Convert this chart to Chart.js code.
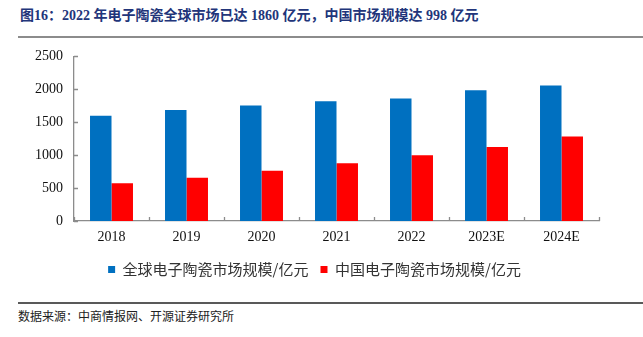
<!DOCTYPE html>
<html>
<head>
<meta charset="utf-8">
<script src="https://cdn.jsdelivr.net/npm/chart.js@4"></script>
<style>
  body { margin: 0; width: 643px; height: 337px; background: #fff; position: relative; overflow: hidden; }
  #title { position: absolute; left: 20px; top: 4px; font: bold 14px "Liberation Serif", "Noto Sans CJK SC"; color: #22357a; white-space: nowrap; }
  #topLine { position: absolute; left: 18px; right: 0; top: 36px; height: 2px; background: #8c8c8c; }
  #box { position: absolute; left: 0; top: 37px; width: 643px; height: 250px; }
  #bottomLine { position: absolute; left: 18px; right: 0; top: 302px; height: 2px; background: #595959; }
  #source { position: absolute; left: 18px; top: 307px; font: 12px "Noto Sans CJK SC"; color: #222; white-space: nowrap; }
</style>
</head>
<body>
<div id="title">图16：2022 年电子陶瓷全球市场已达 1860 亿元，中国市场规模达 998 亿元</div>
<div id="topLine"></div>
<div id="box"><canvas id="myChart"></canvas></div>
<div id="bottomLine"></div>
<div id="source">数据来源：中商情报网、开源证券研究所</div>
<script>
const years = ["2018", "2019", "2020", "2021", "2022", "2023E", "2024E"];
const globalMarket = [1600, 1687, 1753, 1819, 1860, 1987, 2058];
const chinaMarket = [574, 655, 762, 879, 998, 1123, 1285];
const yTicks = [0, 500, 1000, 1500, 2000, 2500];

const axisColor = "#8c8c8c";

// short ticks pointing into the plot, like the original
const innerTicks = {
  id: "innerTicks",
  afterDraw(chart) {
    const ctx = chart.ctx;
    const x = chart.scales.x;
    const y = chart.scales.y;
    ctx.save();
    ctx.strokeStyle = axisColor;
    ctx.lineWidth = 1.3;
    ctx.beginPath();
    for (let i = 0; i < y.ticks.length; i++) {
      const py = Math.round(y.getPixelForValue(y.ticks[i].value)) + 0.5;
      ctx.moveTo(x.left, py);
      ctx.lineTo(x.left + 4, py);
    }
    for (let i = 0; i <= years.length; i++) {
      const px = Math.round(x.getPixelForValue(i - 0.5)) + 0.5;
      ctx.moveTo(px, y.bottom);
      ctx.lineTo(px, y.bottom - 4);
    }
    ctx.stroke();
    ctx.restore();
  },
};

const ctx = document.getElementById("myChart");

new Chart(ctx, {
  type: "bar",
  data: {
    labels: years,
    datasets: [
      {
        label: "全球电子陶瓷市场规模/亿元",
        data: globalMarket,
        backgroundColor: "#0070C0",
        barPercentage: 1,
        categoryPercentage: 0.573,
      },
      {
        label: "中国电子陶瓷市场规模/亿元",
        data: chinaMarket,
        backgroundColor: "#FF0000",
        barPercentage: 1,
        categoryPercentage: 0.573,
      },
    ],
  },
  options: {
    responsive: true,
    maintainAspectRatio: false,
    animation: false,
    layout: { padding: { left: 30, right: 44, top: 6, bottom: 0 } },
    plugins: {
      tooltip: { enabled: false },
      legend: {
        position: "bottom",
        labels: {
          boxWidth: 7,
          boxHeight: 7,
          padding: 12,
          color: "#333",
          font: { family: "Noto Sans CJK SC", size: 15 },
        },
      },
    },
    scales: {
      x: {
        grid: { display: false, drawTicks: false },
        border: { display: true, color: axisColor, width: 1.3 },
        ticks: {
          padding: 8,
          color: "#111",
          font: { family: "Liberation Serif", size: 14 },
        },
        afterFit(scale) {
          scale.height = 29;
        },
      },
      y: {
        min: 0,
        max: 2500,
        grid: { display: false, drawTicks: false },
        border: { display: true, color: axisColor, width: 1.3 },
        afterBuildTicks(scale) {
          scale.ticks = yTicks.map((v) => ({ value: v }));
        },
        ticks: {
          padding: 11,
          color: "#111",
          font: { family: "Liberation Serif", size: 14 },
          callback: (v) => String(v),
        },
        afterFit(scale) {
          scale.width = 44;
        },
      },
    },
  },
  plugins: [innerTicks],
});
</script>
</body>
</html>
